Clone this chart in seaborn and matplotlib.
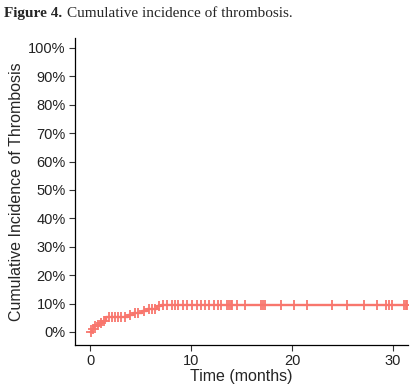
import numpy as np
import pandas as pd
import seaborn as sns
from matplotlib import pyplot as plt
from matplotlib.ticker import FuncFormatter

# step points of the cumulative incidence curve (months, %)
event_times = [0, 0.2, 0.4, 0.7, 1.0, 1.3, 1.6, 3.8, 4.3, 5.1, 5.6, 6.6, 7.0, 31.5]
cum_inc = [0, 1.0, 2.0, 2.5, 3.0, 4.0, 5.2, 5.8, 6.5, 7.3, 8.0, 9.0, 9.6, 9.6]

# censored observations (months)
censor_times = [0.1, 0.3, 0.5, 0.8, 1.1, 1.4, 1.9, 2.2, 2.5, 2.8, 3.1, 3.5, 4.0, 4.5,
                4.8, 5.3, 5.8, 6.1, 6.4, 6.8, 7.2, 7.6, 8.1, 8.4, 8.7, 9.2, 9.6, 10.1,
                10.6, 11.0, 11.4, 11.8, 12.3, 12.7, 13.0, 13.6, 13.8, 14.0, 14.1, 14.6,
                15.3, 16.9, 17.1, 17.3, 18.9, 20.2, 21.5, 24.0, 25.4, 27.1, 28.4, 29.3,
                29.6, 29.9, 31.1, 31.3, 31.4]

y_ticks = [0, 10, 20, 30, 40, 50, 60, 70, 80, 90, 100]
x_ticks = [0, 10, 20, 30]

curve = pd.DataFrame({"time": event_times, "inc": cum_inc})
# value of the step function at each censoring time
idx = np.searchsorted(event_times, censor_times, side="right") - 1
cens = pd.DataFrame({"time": censor_times, "inc": np.array(cum_inc)[idx]})

sns.set_style("white")
plt.rcParams["font.family"] = ["Liberation Sans", "DejaVu Sans"]

col = "#F8766D"
fig = plt.figure(figsize=(4.16, 3.92), dpi=100)
ax = fig.add_axes([0.180, 0.120, 0.801, 0.783])

sns.lineplot(data=curve, x="time", y="inc", drawstyle="steps-post", color=col,
             linewidth=1.7, ax=ax)
sns.scatterplot(data=cens, x="time", y="inc", marker="+", s=55, color=col,
                linewidth=1.3, ax=ax, zorder=3)

ax.set_xlim(-1.5, 31.5)
ax.set_ylim(-4.6, 103.5)
ax.set_xticks(x_ticks)
ax.set_yticks(y_ticks)
ax.yaxis.set_major_formatter(FuncFormatter(lambda v, p: f"{v:.0f}%"))
ax.tick_params(axis="both", which="major", length=4, width=0.8, colors="#333333",
               labelsize=10.5, labelcolor="#222222", direction="out", bottom=True,
               left=True, pad=2.5)
ax.set_xlabel("Time (months)", fontsize=11.5, labelpad=1)
ax.set_ylabel("Cumulative Incidence of Thrombosis", fontsize=11.5, labelpad=3)
sns.despine(ax=ax)
for s in ["left", "bottom"]:
    ax.spines[s].set_color("black")
    ax.spines[s].set_linewidth(0.9)

fig.text(0.01, 0.965, "Figure 4.", fontsize=11, fontweight="bold",
         family="Liberation Serif", va="center")
fig.text(0.160, 0.965, "Cumulative incidence of thrombosis.", fontsize=11,
         family="Liberation Serif", va="center")

fig.savefig("out.png", dpi=100)
